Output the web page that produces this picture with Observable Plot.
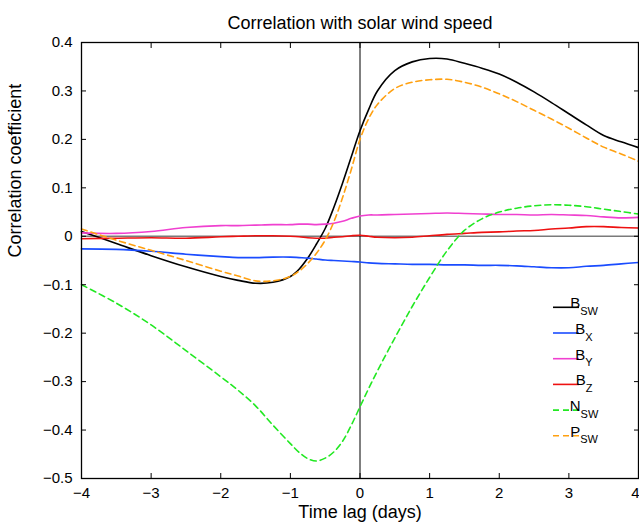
<!DOCTYPE html>
<html>
<head>
<meta charset="utf-8">
<script src="https://cdn.jsdelivr.net/npm/d3@7"></script>
<script src="https://cdn.jsdelivr.net/npm/@observablehq/plot@0.6"></script>
<style>
  html, body { margin: 0; padding: 0; background: #fff; }
  svg { display: block; }
</style>
</head>
<body>
<div id="chart"></div>
<script>
// ---- data ----
const lags = [-4, -3.5, -3, -2.5, -2, -1.75, -1.5, -1.25, -1, -0.875, -0.75, -0.625, -0.5, -0.375, -0.25, -0.125, 0, 0.125, 0.25, 0.5, 0.75, 1, 1.25, 1.5, 1.75, 2, 2.25, 2.5, 2.75, 3, 3.25, 3.5, 3.75, 4];

const bSW = [0.01, -0.015, -0.04, -0.063, -0.083, -0.091, -0.097, -0.095, -0.083, -0.068, -0.045, -0.016, 0.016, 0.060, 0.110, 0.164, 0.218, 0.262, 0.300, 0.342, 0.360, 0.367, 0.366, 0.357, 0.347, 0.335, 0.318, 0.298, 0.276, 0.253, 0.230, 0.208, 0.195, 0.183];
const bX = [-0.026, -0.027, -0.031, -0.037, -0.042, -0.044, -0.044, -0.043, -0.043, -0.044, -0.045, -0.047, -0.049, -0.050, -0.051, -0.052, -0.053, -0.055, -0.056, -0.057, -0.058, -0.058, -0.059, -0.059, -0.060, -0.060, -0.061, -0.063, -0.065, -0.065, -0.062, -0.060, -0.057, -0.054];
const bY = [0.007, 0.006, 0.010, 0.018, 0.022, 0.022, 0.023, 0.024, 0.024, 0.025, 0.025, 0.024, 0.025, 0.027, 0.031, 0.037, 0.042, 0.044, 0.044, 0.045, 0.046, 0.047, 0.048, 0.047, 0.046, 0.045, 0.045, 0.044, 0.045, 0.044, 0.043, 0.040, 0.038, 0.039];
const bZ = [-0.005, -0.004, -0.003, -0.004, -0.001, 0.0, 0.001, 0.001, 0.0, -0.001, -0.003, -0.004, -0.004, -0.002, -0.001, 0.001, 0.002, 0.0, -0.002, -0.003, -0.002, 0.001, 0.004, 0.006, 0.008, 0.009, 0.011, 0.012, 0.015, 0.017, 0.020, 0.020, 0.018, 0.017];
const nSW = [-0.10, -0.138, -0.183, -0.236, -0.290, -0.318, -0.350, -0.390, -0.428, -0.446, -0.459, -0.464, -0.458, -0.445, -0.423, -0.390, -0.352, -0.314, -0.278, -0.21, -0.145, -0.085, -0.03, 0.012, 0.036, 0.050, 0.058, 0.063, 0.065, 0.064, 0.061, 0.056, 0.051, 0.046];
const pSW = [0.015, -0.008, -0.029, -0.050, -0.072, -0.082, -0.092, -0.092, -0.083, -0.072, -0.056, -0.035, -0.008, 0.030, 0.080, 0.138, 0.200, 0.243, 0.272, 0.305, 0.318, 0.323, 0.324, 0.318, 0.308, 0.294, 0.278, 0.260, 0.242, 0.223, 0.203, 0.184, 0.170, 0.155];

const seriesMain = ["B", "B", "B", "B", "N", "P"];
const seriesSub = ["SW", "X", "Y", "Z", "SW", "SW"];
const seriesValues = [bSW, bX, bY, bZ, nSW, pSW];

const xTicks = [-4, -3, -2, -1, 0, 1, 2, 3, 4];
const yTicks = [-0.5, -0.4, -0.3, -0.2, -0.1, 0, 0.1, 0.2, 0.3, 0.4];

const titleText = "Correlation with solar wind speed";
const xLabel = "Time lag (days)";
const yLabel = "Correlation coefficient";

// ---- styles ----
const colors = ["#000000", "#1a4cff", "#f040d0", "#ee1111", "#22e822", "#ffa010"];
const dashes = [null, null, null, null, "6,4", "6,4"];

const fmt = d => d === 0 ? "0" : (d < 0 ? "\u2212" : "") + Math.abs(d);
const FONT = "'Liberation Sans', Arial, Helvetica, sans-serif";

const lineMarks = seriesValues.map((vals, k) =>
  Plot.line(lags.map((t, i) => ({t, v: vals[i]})), {
    x: "t", y: "v",
    stroke: colors[k], strokeWidth: 1.6,
    strokeDasharray: dashes[k],
    curve: "catmull-rom"
  })
);

const xLast = xTicks[xTicks.length - 1];

const chart = Plot.plot({
  width: 639,
  height: 525,
  marginLeft: 81,
  marginRight: 1,
  marginTop: 42,
  marginBottom: 47,
  style: {fontFamily: FONT, fontSize: "15px", color: "#000", background: "#fff"},
  x: {domain: [-4, 4], label: null},
  y: {domain: [-0.5, 0.4], label: null},
  marks: [
    Plot.ruleY([0], {stroke: "#7a7a7a", strokeWidth: 1.6}),
    Plot.ruleX([0], {stroke: "#000", strokeWidth: 1}),
    ...lineMarks,
    Plot.frame({stroke: "#000", strokeWidth: 1.3}),
    // inward ticks
    Plot.axisX({anchor: "bottom", ticks: xTicks, tickSize: 5, dy: -5, tickFormat: () => "", label: null}),
    Plot.axisX({anchor: "top", ticks: xTicks, tickSize: 5, dy: 5, tickFormat: () => "", label: null}),
    Plot.axisY({anchor: "left", ticks: yTicks, tickSize: 5, dx: 5, tickFormat: () => "", label: null}),
    Plot.axisY({anchor: "right", ticks: yTicks, tickSize: 5, dx: -5, tickFormat: () => "", label: null}),
    // tick labels
    Plot.text(xTicks.filter(d => d !== xLast), {x: d => d, text: fmt, frameAnchor: "bottom", lineAnchor: "top", dy: 9, fontSize: 15}),
    Plot.text([xLast], {x: d => d, text: fmt, frameAnchor: "bottom", lineAnchor: "top", dy: 9, dx: -3, fontSize: 15}),
    Plot.axisY({anchor: "left", ticks: yTicks, tickSize: 0, tickPadding: 9, tickFormat: fmt, label: null, fontSize: 15}),
    // title & axis labels
    Plot.text([titleText], {frameAnchor: "top", lineAnchor: "top", dy: -26, fontSize: 18}),
    Plot.text([xLabel], {frameAnchor: "bottom", lineAnchor: "top", dy: 27, fontSize: 18}),
    Plot.text([yLabel], {frameAnchor: "left", rotate: -90, dx: -66, dy: -3, fontSize: 18})
  ]
});

document.getElementById("chart").appendChild(chart);

// ---- legend (inside the plot, lower right) ----
const svg = d3.select(chart);
const leg = svg.append("g").attr("font-family", FONT);
const rowY0 = 307.3, rowStep = 25.7;
seriesMain.forEach((m, k) => {
  const y = rowY0 + k * rowStep;
  leg.append("line")
    .attr("x1", 553).attr("x2", 579).attr("y1", y).attr("y2", y)
    .attr("stroke", colors[k]).attr("stroke-width", 1.6)
    .attr("stroke-dasharray", dashes[k]);
  const t = leg.append("text").attr("x", 584).attr("y", y + 1).attr("font-size", 15).attr("fill", "#000");
  t.append("tspan").text(m);
  t.append("tspan").attr("dy", 6.5).attr("font-size", 11).text(seriesSub[k]);
});
</script>
</body>
</html>
